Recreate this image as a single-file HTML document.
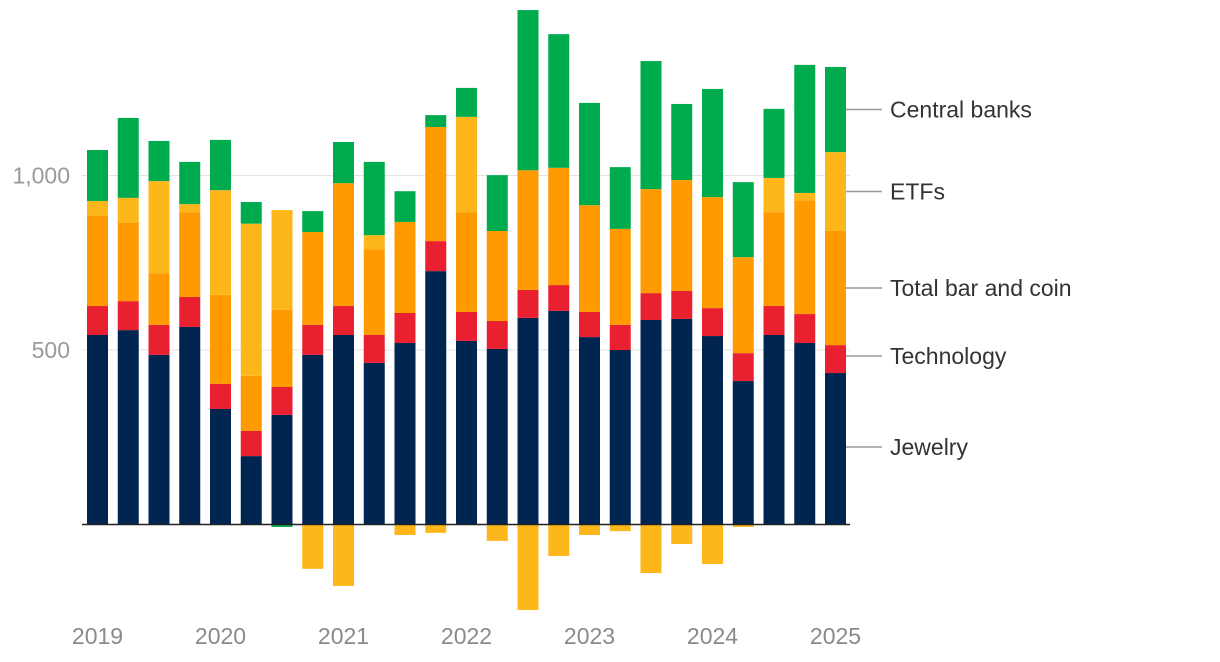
<!DOCTYPE html>
<html><head><meta charset="utf-8"><style>
body{margin:0;background:#fff;font-family:"Liberation Sans",Arial,sans-serif}
svg{display:block}
</style></head><body>
<svg id="chart" width="1220" height="662" viewBox="0 0 1220 662" xmlns="http://www.w3.org/2000/svg"></svg>
<script>
const categories=["2019Q1","2019Q2","2019Q3","2019Q4","2020Q1","2020Q2","2020Q3","2020Q4","2021Q1","2021Q2","2021Q3","2021Q4","2022Q1","2022Q2","2022Q3","2022Q4","2023Q1","2023Q2","2023Q3","2023Q4","2024Q1","2024Q2","2024Q3","2024Q4","2025Q1"];
const jewelry=[543,557,486,566,331,196,314,486,543,463,520,726,526,503,592,612,537,500,586,589,540,411,543,520,434];
const technology=[83,83,86,86,72,72,80,86,83,80,86,86,83,80,80,74,72,72,77,80,80,80,83,83,80];
const barCoin=[258,224,148,243,255,158,221,266,352,246,261,327,286,258,343,336,306,275,298,318,318,275,269,326,327];
const etfs=[43,72,264,23,300,436,286,-127,-176,40,-30,-24,273,-47,-245,-90,-30,-19,-139,-56,-113,-7,98,21,226];
const centralBanks=[146,229,115,121,144,62,-7,60,118,210,88,34,83,160,459,383,293,177,367,218,310,215,198,367,244];
const yTicks=[500,1000];
const yTickLabels=["500","1,000"];
const years=["2019","2020","2021","2022","2023","2024","2025"];
const yearIdx=[0,4,8,12,16,20,24];
const series=[
 {name:"jewelry",label:"Jewelry",vals:jewelry,color:"#002550"},
 {name:"technology",label:"Technology",vals:technology,color:"#e8202f"},
 {name:"bar-and-coin",label:"Total bar and coin",vals:barCoin,color:"#ff9a00"},
 {name:"etfs",label:"ETFs",vals:etfs,color:"#fdb71a"},
 {name:"central-banks",label:"Central banks",vals:centralBanks,color:"#00ab4e"}
];
const NS="http://www.w3.org/2000/svg";
const svg=document.getElementById("chart");
const y0=524.5,k=0.349;
const y=v=>y0-v*k;
const x=i=>87+i*30.75;
const bw=21;
function mk(t,a){const e=document.createElementNS(NS,t);for(const n in a)e.setAttribute(n,a[n]);svg.appendChild(e);return e;}
yTicks.forEach((t,i)=>{
 const g=mk("line",{x1:82,x2:850,y1:y(t),y2:y(t),stroke:"#e3e3e3","stroke-width":1});
 
 
 const tx=mk("text",{x:70,y:y(t)+8,"text-anchor":"end","font-size":23,fill:"#9a9a9a"});
 tx.textContent=yTickLabels[i];
 
 
});
categories.forEach((c,i)=>{
 let pos=0,neg=0;
 series.forEach(s=>{
  const v=s.vals[i];let top,bot;
  if(v>=0){bot=pos;top=pos+v;pos=top;}else{top=neg;bot=neg+v;neg=bot;}
  const r=mk("rect",{x:x(i),y:y(top),width:bw,height:Math.max(0,y(bot)-y(top)),fill:s.color});
  
  
 });
});
const base=mk("line",{x1:82,x2:850,y1:y0,y2:y0,stroke:"#222","stroke-width":1.5});


years.forEach((yr,j)=>{
 const t=mk("text",{x:x(yearIdx[j])+bw/2,y:644,"text-anchor":"middle","font-size":23,fill:"#8a8a8a"});
 t.textContent=yr;
 
 
});
const last=categories.length-1;
let acc=0;
series.forEach(s=>{
 const v=s.vals[last];const mid=acc+v/2;acc+=v;
 let ly=y(mid);
 if(s.name==="technology")ly=356;
 if(s.name==="jewelry")ly=447;
 const l=mk("line",{x1:846,x2:882,y1:ly,y2:ly,stroke:"#999","stroke-width":1.5});
 
 
 const t=mk("text",{x:890,y:ly+8,"font-size":23,fill:"#333"});
 t.textContent=s.label;
 
 
});
</script>
</body></html>
